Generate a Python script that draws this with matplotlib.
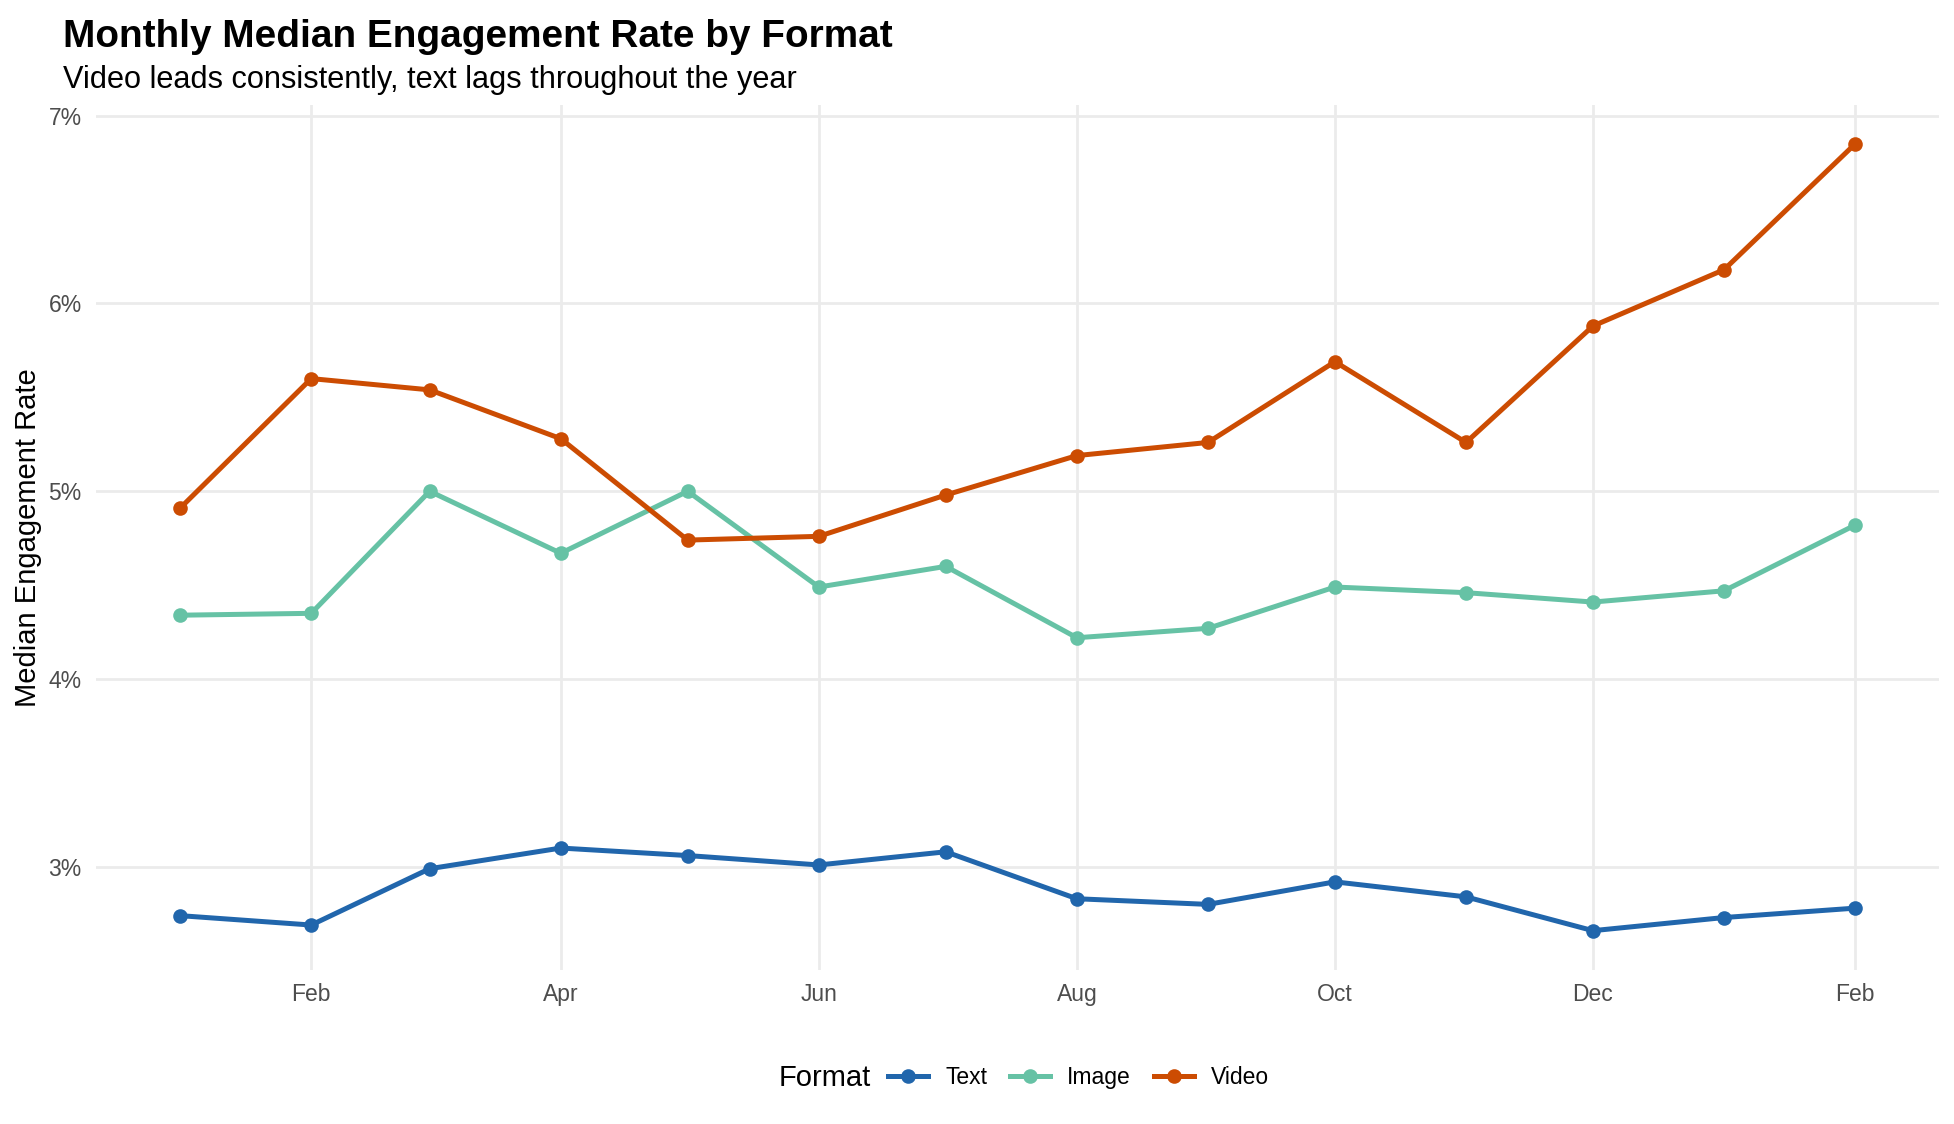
import numpy as np
import pandas as pd
import matplotlib
matplotlib.use("Agg")
import matplotlib.pyplot as plt
import matplotlib.dates as mdates
from matplotlib.ticker import FuncFormatter
from matplotlib.lines import Line2D

plt.rcParams["font.family"] = ["Liberation Sans", "DejaVu Sans"]

# --- Data (median engagement rate, %) ---
months = pd.date_range("2023-01-01", "2024-02-01", freq="MS")
text_rate  = [2.74, 2.69, 2.99, 3.10, 3.06, 3.01, 3.08, 2.83, 2.80, 2.92, 2.84, 2.66, 2.73, 2.78]
image_rate = [4.34, 4.35, 5.00, 4.67, 5.00, 4.49, 4.60, 4.22, 4.27, 4.49, 4.46, 4.41, 4.47, 4.82]
video_rate = [4.91, 5.60, 5.54, 5.28, 4.74, 4.76, 4.98, 5.19, 5.26, 5.69, 5.26, 5.88, 6.18, 6.85]

formats = ["Text", "Image", "Video"]
colors  = ["#2166AC", "#66C2A5", "#CC4C02"]
series  = [text_rate, image_rate, video_rate]

# --- Figure ---
fig = plt.figure(figsize=(1954 / 150, 1124 / 150), dpi=150)
ax = fig.add_axes([0.0493, 0.137, 0.9430, 0.770])

for name, vals, col in zip(formats, series, colors):
    ax.plot(months, vals, color=col, linewidth=2.4, marker="o",
            markersize=6, label=name, solid_capstyle="butt", zorder=3)

# ggplot-like expansion (5%)
allv = np.concatenate(series)
lo, hi = allv.min(), allv.max()
pad = (hi - lo) * 0.05
ax.set_ylim(lo - pad, hi + pad)
span = months[-1] - months[0]
ax.set_xlim(months[0] - span * 0.05, months[-1] + span * 0.05)

ax.set_yticks([3, 4, 5, 6, 7])
ax.yaxis.set_major_formatter(FuncFormatter(lambda v, p: f"{v:.0f}%"))
ax.xaxis.set_major_locator(mdates.MonthLocator(bymonth=[2, 4, 6, 8, 10, 12]))
ax.xaxis.set_major_formatter(mdates.DateFormatter("%b"))

ax.grid(True, color="#EBEBEB", linewidth=1.3)
ax.set_axisbelow(True)
for s in ax.spines.values():
    s.set_visible(False)
ax.tick_params(length=0, labelsize=11, colors="#4D4D4D")
ax.tick_params(axis="y", pad=7)
ax.tick_params(axis="x", pad=6)

ax.set_ylabel("Median Engagement Rate", fontsize=14, color="black", labelpad=3)

fig.text(0.032, 0.958, "Monthly Median Engagement Rate by Format",
         fontsize=18.6, fontweight="bold", ha="left", va="baseline")
fig.text(0.032, 0.922, "Video leads consistently, text lags throughout the year",
         fontsize=14.75, ha="left", va="baseline")

# --- Legend at bottom ---
handles = [Line2D([0], [0], color=c, linewidth=2.4, marker="o", markersize=6)
           for c in colors]
fig.legend(handles, formats, loc="center", bbox_to_anchor=(0.552, 0.041),
           ncol=3, frameon=False, fontsize=11, handlelength=1.75,
           handletextpad=0.75, columnspacing=1.0)
fig.text(0.4456, 0.041, "Format", fontsize=14, ha="right", va="center")

fig.savefig("out.png", dpi=150)
